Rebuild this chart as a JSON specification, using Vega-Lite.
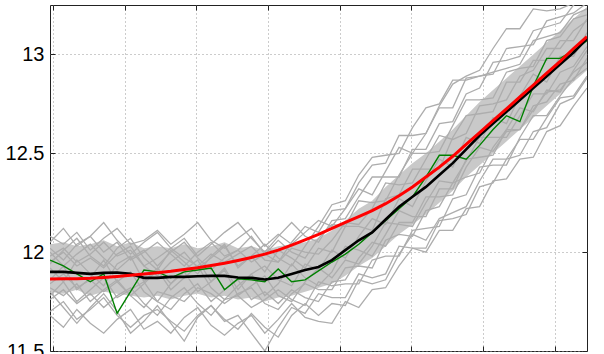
{
"$schema": "https://vega.github.io/schema/vega-lite/v6.json",
"autosize": "none",
"width": 537,
"height": 346,
"padding": {"left": 50, "top": 5, "right": 17, "bottom": 3},
"background": "white",
"config": {"view": {"stroke": "#222", "strokeWidth": 1}},
"datasets": {
"band": [
{"i":0,"lo":11.80,"hi":12.04},{"i":1,"lo":11.79,"hi":12.05},{"i":2,"lo":11.81,"hi":12.03},{"i":3,"lo":11.78,"hi":12.04},{"i":4,"lo":11.80,"hi":12.06},{"i":5,"lo":11.79,"hi":12.03},{"i":6,"lo":11.78,"hi":12.05},{"i":7,"lo":11.77,"hi":12.02},{"i":8,"lo":11.78,"hi":12.03},{"i":9,"lo":11.76,"hi":12.02},{"i":10,"lo":11.78,"hi":12.04},{"i":11,"lo":11.79,"hi":12.02},{"i":12,"lo":11.77,"hi":12.03},{"i":13,"lo":11.78,"hi":12.05},{"i":14,"lo":11.76,"hi":12.02},{"i":15,"lo":11.77,"hi":12.03},{"i":16,"lo":11.75,"hi":12.01},{"i":17,"lo":11.77,"hi":12.03},{"i":18,"lo":11.78,"hi":12.04},{"i":19,"lo":11.80,"hi":12.05},{"i":20,"lo":11.82,"hi":12.07},{"i":21,"lo":11.84,"hi":12.11},{"i":22,"lo":11.88,"hi":12.16},{"i":23,"lo":11.93,"hi":12.22},{"i":24,"lo":11.97,"hi":12.26},{"i":25,"lo":12.03,"hi":12.33},{"i":26,"lo":12.09,"hi":12.39},{"i":27,"lo":12.14,"hi":12.45},{"i":28,"lo":12.19,"hi":12.50},{"i":29,"lo":12.25,"hi":12.56},{"i":30,"lo":12.31,"hi":12.62},{"i":31,"lo":12.38,"hi":12.69},{"i":32,"lo":12.44,"hi":12.76},{"i":33,"lo":12.50,"hi":12.82},{"i":34,"lo":12.56,"hi":12.88},{"i":35,"lo":12.62,"hi":12.94},{"i":36,"lo":12.68,"hi":13.00},{"i":37,"lo":12.74,"hi":13.06},{"i":38,"lo":12.80,"hi":13.12},{"i":39,"lo":12.86,"hi":13.18},{"i":40,"lo":12.92,"hi":13.24}
],
"gray": [
{"g":1,"i":0,"v":11.98},{"g":1,"i":1,"v":12.02},{"g":1,"i":2,"v":11.95},{"g":1,"i":3,"v":11.99},{"g":1,"i":4,"v":12.05},{"g":1,"i":5,"v":11.98},{"g":1,"i":6,"v":12.01},{"g":1,"i":7,"v":11.93},{"g":1,"i":8,"v":11.97},{"g":1,"i":9,"v":12.02},{"g":1,"i":10,"v":11.97},{"g":1,"i":11,"v":11.93},{"g":1,"i":12,"v":11.99},{"g":1,"i":13,"v":11.95},{"g":1,"i":14,"v":11.99},{"g":1,"i":15,"v":12.03},{"g":1,"i":16,"v":11.96},{"g":1,"i":17,"v":11.95},{"g":1,"i":18,"v":12.02},{"g":1,"i":19,"v":12.00},{"g":1,"i":20,"v":11.99},{"g":1,"i":21,"v":12.06},{"g":1,"i":22,"v":12.15},{"g":1,"i":23,"v":12.14},{"g":1,"i":24,"v":12.22},{"g":1,"i":25,"v":12.35},{"g":1,"i":26,"v":12.34},{"g":1,"i":27,"v":12.35},{"g":1,"i":28,"v":12.47},{"g":1,"i":29,"v":12.59},{"g":1,"i":30,"v":12.57},{"g":1,"i":31,"v":12.60},{"g":1,"i":32,"v":12.74},{"g":1,"i":33,"v":12.75},{"g":1,"i":34,"v":12.77},{"g":1,"i":35,"v":12.89},{"g":1,"i":36,"v":12.92},{"g":1,"i":37,"v":13.03},{"g":1,"i":38,"v":13.03},{"g":1,"i":39,"v":13.12},{"g":1,"i":40,"v":13.17},
{"g":2,"i":0,"v":11.82},{"g":2,"i":1,"v":11.78},{"g":2,"i":2,"v":11.84},{"g":2,"i":3,"v":11.75},{"g":2,"i":4,"v":11.81},{"g":2,"i":5,"v":11.86},{"g":2,"i":6,"v":11.78},{"g":2,"i":7,"v":11.72},{"g":2,"i":8,"v":11.80},{"g":2,"i":9,"v":11.78},{"g":2,"i":10,"v":11.75},{"g":2,"i":11,"v":11.82},{"g":2,"i":12,"v":11.79},{"g":2,"i":13,"v":11.74},{"g":2,"i":14,"v":11.79},{"g":2,"i":15,"v":11.82},{"g":2,"i":16,"v":11.74},{"g":2,"i":17,"v":11.71},{"g":2,"i":18,"v":11.79},{"g":2,"i":19,"v":11.84},{"g":2,"i":20,"v":11.81},{"g":2,"i":21,"v":11.81},{"g":2,"i":22,"v":11.92},{"g":2,"i":23,"v":11.93},{"g":2,"i":24,"v":11.92},{"g":2,"i":25,"v":12.06},{"g":2,"i":26,"v":12.09},{"g":2,"i":27,"v":12.08},{"g":2,"i":28,"v":12.21},{"g":2,"i":29,"v":12.23},{"g":2,"i":30,"v":12.35},{"g":2,"i":31,"v":12.38},{"g":2,"i":32,"v":12.40},{"g":2,"i":33,"v":12.53},{"g":2,"i":34,"v":12.62},{"g":2,"i":35,"v":12.62},{"g":2,"i":36,"v":12.72},{"g":2,"i":37,"v":12.81},{"g":2,"i":38,"v":12.82},{"g":2,"i":39,"v":12.91},{"g":2,"i":40,"v":12.96},
{"g":3,"i":0,"v":12.08},{"g":3,"i":1,"v":12.04},{"g":3,"i":2,"v":12.10},{"g":3,"i":3,"v":12.01},{"g":3,"i":4,"v":12.07},{"g":3,"i":5,"v":12.12},{"g":3,"i":6,"v":12.04},{"g":3,"i":7,"v":12.06},{"g":3,"i":8,"v":12.11},{"g":3,"i":9,"v":12.04},{"g":3,"i":10,"v":12.09},{"g":3,"i":11,"v":12.15},{"g":3,"i":12,"v":12.06},{"g":3,"i":13,"v":12.02},{"g":3,"i":14,"v":12.07},{"g":3,"i":15,"v":12.12},{"g":3,"i":16,"v":12.03},{"g":3,"i":17,"v":12.09},{"g":3,"i":18,"v":12.04},{"g":3,"i":19,"v":12.10},{"g":3,"i":20,"v":12.16},{"g":3,"i":21,"v":12.13},{"g":3,"i":22,"v":12.22},{"g":3,"i":23,"v":12.32},{"g":3,"i":24,"v":12.29},{"g":3,"i":25,"v":12.41},{"g":3,"i":26,"v":12.53},{"g":3,"i":27,"v":12.50},{"g":3,"i":28,"v":12.60},{"g":3,"i":29,"v":12.73},{"g":3,"i":30,"v":12.73},{"g":3,"i":31,"v":12.88},{"g":3,"i":32,"v":12.89},{"g":3,"i":33,"v":12.90},{"g":3,"i":34,"v":13.03},{"g":3,"i":35,"v":13.04},{"g":3,"i":36,"v":13.05},{"g":3,"i":37,"v":13.17},{"g":3,"i":38,"v":13.19},{"g":3,"i":39,"v":13.21},{"g":3,"i":40,"v":13.26},
{"g":4,"i":0,"v":11.70},{"g":4,"i":1,"v":11.75},{"g":4,"i":2,"v":11.66},{"g":4,"i":3,"v":11.71},{"g":4,"i":4,"v":11.77},{"g":4,"i":5,"v":11.68},{"g":4,"i":6,"v":11.62},{"g":4,"i":7,"v":11.68},{"g":4,"i":8,"v":11.71},{"g":4,"i":9,"v":11.65},{"g":4,"i":10,"v":11.60},{"g":4,"i":11,"v":11.68},{"g":4,"i":12,"v":11.73},{"g":4,"i":13,"v":11.66},{"g":4,"i":14,"v":11.61},{"g":4,"i":15,"v":11.69},{"g":4,"i":16,"v":11.62},{"g":4,"i":17,"v":11.57},{"g":4,"i":18,"v":11.68},{"g":4,"i":19,"v":11.74},{"g":4,"i":20,"v":11.68},{"g":4,"i":21,"v":11.74},{"g":4,"i":22,"v":11.73},{"g":4,"i":23,"v":11.86},{"g":4,"i":24,"v":11.84},{"g":4,"i":25,"v":11.86},{"g":4,"i":26,"v":11.99},{"g":4,"i":27,"v":12.09},{"g":4,"i":28,"v":12.06},{"g":4,"i":29,"v":12.17},{"g":4,"i":30,"v":12.20},{"g":4,"i":31,"v":12.23},{"g":4,"i":32,"v":12.36},{"g":4,"i":33,"v":12.47},{"g":4,"i":34,"v":12.47},{"g":4,"i":35,"v":12.57},{"g":4,"i":36,"v":12.57},{"g":4,"i":37,"v":12.68},{"g":4,"i":38,"v":12.78},{"g":4,"i":39,"v":12.79},{"g":4,"i":40,"v":12.89},
{"g":5,"i":0,"v":11.92},{"g":5,"i":1,"v":11.85},{"g":5,"i":2,"v":11.96},{"g":5,"i":3,"v":11.89},{"g":5,"i":4,"v":11.83},{"g":5,"i":5,"v":11.94},{"g":5,"i":6,"v":11.98},{"g":5,"i":7,"v":11.85},{"g":5,"i":8,"v":11.92},{"g":5,"i":9,"v":11.84},{"g":5,"i":10,"v":11.91},{"g":5,"i":11,"v":11.96},{"g":5,"i":12,"v":11.85},{"g":5,"i":13,"v":11.92},{"g":5,"i":14,"v":11.81},{"g":5,"i":15,"v":11.89},{"g":5,"i":16,"v":11.93},{"g":5,"i":17,"v":11.86},{"g":5,"i":18,"v":11.83},{"g":5,"i":19,"v":11.94},{"g":5,"i":20,"v":11.91},{"g":5,"i":21,"v":12.01},{"g":5,"i":22,"v":11.97},{"g":5,"i":23,"v":12.08},{"g":5,"i":24,"v":12.17},{"g":5,"i":25,"v":12.14},{"g":5,"i":26,"v":12.27},{"g":5,"i":27,"v":12.23},{"g":5,"i":28,"v":12.36},{"g":5,"i":29,"v":12.47},{"g":5,"i":30,"v":12.43},{"g":5,"i":31,"v":12.58},{"g":5,"i":32,"v":12.55},{"g":5,"i":33,"v":12.68},{"g":5,"i":34,"v":12.65},{"g":5,"i":35,"v":12.79},{"g":5,"i":36,"v":12.90},{"g":5,"i":37,"v":12.86},{"g":5,"i":38,"v":12.99},{"g":5,"i":39,"v":12.99},{"g":5,"i":40,"v":13.11},
{"g":6,"i":0,"v":11.86},{"g":6,"i":1,"v":11.93},{"g":6,"i":2,"v":11.81},{"g":6,"i":3,"v":11.87},{"g":6,"i":4,"v":11.96},{"g":6,"i":5,"v":11.85},{"g":6,"i":6,"v":11.78},{"g":6,"i":7,"v":11.84},{"g":6,"i":8,"v":11.91},{"g":6,"i":9,"v":11.81},{"g":6,"i":10,"v":11.87},{"g":6,"i":11,"v":11.93},{"g":6,"i":12,"v":11.82},{"g":6,"i":13,"v":11.76},{"g":6,"i":14,"v":11.83},{"g":6,"i":15,"v":11.89},{"g":6,"i":16,"v":11.78},{"g":6,"i":17,"v":11.84},{"g":6,"i":18,"v":11.94},{"g":6,"i":19,"v":11.87},{"g":6,"i":20,"v":11.83},{"g":6,"i":21,"v":11.90},{"g":6,"i":22,"v":12.03},{"g":6,"i":23,"v":12.01},{"g":6,"i":24,"v":11.98},{"g":6,"i":25,"v":12.09},{"g":6,"i":26,"v":12.21},{"g":6,"i":27,"v":12.18},{"g":6,"i":28,"v":12.18},{"g":6,"i":29,"v":12.32},{"g":6,"i":30,"v":12.32},{"g":6,"i":31,"v":12.47},{"g":6,"i":32,"v":12.48},{"g":6,"i":33,"v":12.49},{"g":6,"i":34,"v":12.62},{"g":6,"i":35,"v":12.73},{"g":6,"i":36,"v":12.71},{"g":6,"i":37,"v":12.82},{"g":6,"i":38,"v":12.81},{"g":6,"i":39,"v":12.92},{"g":6,"i":40,"v":13.02},
{"g":7,"i":0,"v":12.02},{"g":7,"i":1,"v":11.96},{"g":7,"i":2,"v":12.04},{"g":7,"i":3,"v":12.08},{"g":7,"i":4,"v":12.00},{"g":7,"i":5,"v":12.05},{"g":7,"i":6,"v":11.96},{"g":7,"i":7,"v":12.00},{"g":7,"i":8,"v":12.05},{"g":7,"i":9,"v":11.99},{"g":7,"i":10,"v":11.93},{"g":7,"i":11,"v":12.00},{"g":7,"i":12,"v":12.05},{"g":7,"i":13,"v":11.98},{"g":7,"i":14,"v":12.01},{"g":7,"i":15,"v":11.95},{"g":7,"i":16,"v":11.99},{"g":7,"i":17,"v":12.06},{"g":7,"i":18,"v":12.00},{"g":7,"i":19,"v":11.97},{"g":7,"i":20,"v":12.07},{"g":7,"i":21,"v":12.14},{"g":7,"i":22,"v":12.13},{"g":7,"i":23,"v":12.26},{"g":7,"i":24,"v":12.25},{"g":7,"i":25,"v":12.26},{"g":7,"i":26,"v":12.39},{"g":7,"i":27,"v":12.50},{"g":7,"i":28,"v":12.50},{"g":7,"i":29,"v":12.51},{"g":7,"i":30,"v":12.64},{"g":7,"i":31,"v":12.77},{"g":7,"i":32,"v":12.77},{"g":7,"i":33,"v":12.78},{"g":7,"i":34,"v":12.91},{"g":7,"i":35,"v":12.93},{"g":7,"i":36,"v":12.94},{"g":7,"i":37,"v":13.07},{"g":7,"i":38,"v":13.09},{"g":7,"i":39,"v":13.18},{"g":7,"i":40,"v":13.20},
{"g":8,"i":0,"v":11.76},{"g":8,"i":1,"v":11.81},{"g":8,"i":2,"v":11.74},{"g":8,"i":3,"v":11.79},{"g":8,"i":4,"v":11.72},{"g":8,"i":5,"v":11.78},{"g":8,"i":6,"v":11.82},{"g":8,"i":7,"v":11.74},{"g":8,"i":8,"v":11.68},{"g":8,"i":9,"v":11.77},{"g":8,"i":10,"v":11.82},{"g":8,"i":11,"v":11.74},{"g":8,"i":12,"v":11.68},{"g":8,"i":13,"v":11.76},{"g":8,"i":14,"v":11.78},{"g":8,"i":15,"v":11.72},{"g":8,"i":16,"v":11.76},{"g":8,"i":17,"v":11.81},{"g":8,"i":18,"v":11.76},{"g":8,"i":19,"v":11.73},{"g":8,"i":20,"v":11.85},{"g":8,"i":21,"v":11.83},{"g":8,"i":22,"v":11.84},{"g":8,"i":23,"v":11.84},{"g":8,"i":24,"v":11.96},{"g":8,"i":25,"v":11.98},{"g":8,"i":26,"v":11.98},{"g":8,"i":27,"v":12.11},{"g":8,"i":28,"v":12.12},{"g":8,"i":29,"v":12.13},{"g":8,"i":30,"v":12.27},{"g":8,"i":31,"v":12.29},{"g":8,"i":32,"v":12.43},{"g":8,"i":33,"v":12.44},{"g":8,"i":34,"v":12.44},{"g":8,"i":35,"v":12.58},{"g":8,"i":36,"v":12.69},{"g":8,"i":37,"v":12.69},{"g":8,"i":38,"v":12.79},{"g":8,"i":39,"v":12.88},{"g":8,"i":40,"v":12.93},
{"g":9,"i":0,"v":11.95},{"g":9,"i":1,"v":12.00},{"g":9,"i":2,"v":11.93},{"g":9,"i":3,"v":11.97},{"g":9,"i":4,"v":11.92},{"g":9,"i":5,"v":11.99},{"g":9,"i":6,"v":12.03},{"g":9,"i":7,"v":11.93},{"g":9,"i":8,"v":11.88},{"g":9,"i":9,"v":11.95},{"g":9,"i":10,"v":12.00},{"g":9,"i":11,"v":11.92},{"g":9,"i":12,"v":11.97},{"g":9,"i":13,"v":12.03},{"g":9,"i":14,"v":11.93},{"g":9,"i":15,"v":11.98},{"g":9,"i":16,"v":12.04},{"g":9,"i":17,"v":11.97},{"g":9,"i":18,"v":11.93},{"g":9,"i":19,"v":12.03},{"g":9,"i":20,"v":12.13},{"g":9,"i":21,"v":12.24},{"g":9,"i":22,"v":12.26},{"g":9,"i":23,"v":12.39},{"g":9,"i":24,"v":12.48},{"g":9,"i":25,"v":12.49},{"g":9,"i":26,"v":12.50},{"g":9,"i":27,"v":12.63},{"g":9,"i":28,"v":12.73},{"g":9,"i":29,"v":12.75},{"g":9,"i":30,"v":12.87},{"g":9,"i":31,"v":12.87},{"g":9,"i":32,"v":12.89},{"g":9,"i":33,"v":12.91},{"g":9,"i":34,"v":12.93},{"g":9,"i":35,"v":12.95},{"g":9,"i":36,"v":13.07},{"g":9,"i":37,"v":13.09},{"g":9,"i":38,"v":13.11},{"g":9,"i":39,"v":13.20},{"g":9,"i":40,"v":13.23},
{"g":10,"i":0,"v":11.80},{"g":10,"i":1,"v":11.72},{"g":10,"i":2,"v":11.64},{"g":10,"i":3,"v":11.72},{"g":10,"i":4,"v":11.79},{"g":10,"i":5,"v":11.70},{"g":10,"i":6,"v":11.59},{"g":10,"i":7,"v":11.65},{"g":10,"i":8,"v":11.73},{"g":10,"i":9,"v":11.64},{"g":10,"i":10,"v":11.55},{"g":10,"i":11,"v":11.67},{"g":10,"i":12,"v":11.73},{"g":10,"i":13,"v":11.65},{"g":10,"i":14,"v":11.68},{"g":10,"i":15,"v":11.59},{"g":10,"i":16,"v":11.50},{"g":10,"i":17,"v":11.62},{"g":10,"i":18,"v":11.72},{"g":10,"i":19,"v":11.69},{"g":10,"i":20,"v":11.79},{"g":10,"i":21,"v":11.77},{"g":10,"i":22,"v":11.77},{"g":10,"i":23,"v":11.89},{"g":10,"i":24,"v":11.87},{"g":10,"i":25,"v":11.89},{"g":10,"i":26,"v":12.03},{"g":10,"i":27,"v":12.02},{"g":10,"i":28,"v":12.02},{"g":10,"i":29,"v":12.16},{"g":10,"i":30,"v":12.17},{"g":10,"i":31,"v":12.19},{"g":10,"i":32,"v":12.33},{"g":10,"i":33,"v":12.35},{"g":10,"i":34,"v":12.47},{"g":10,"i":35,"v":12.49},{"g":10,"i":36,"v":12.61},{"g":10,"i":37,"v":12.63},{"g":10,"i":38,"v":12.75},{"g":10,"i":39,"v":12.78},{"g":10,"i":40,"v":12.88},
{"g":11,"i":0,"v":12.05},{"g":11,"i":1,"v":12.12},{"g":11,"i":2,"v":12.03},{"g":11,"i":3,"v":12.08},{"g":11,"i":4,"v":12.15},{"g":11,"i":5,"v":12.06},{"g":11,"i":6,"v":11.99},{"g":11,"i":7,"v":12.05},{"g":11,"i":8,"v":12.10},{"g":11,"i":9,"v":12.02},{"g":11,"i":10,"v":12.07},{"g":11,"i":11,"v":11.98},{"g":11,"i":12,"v":12.04},{"g":11,"i":13,"v":12.10},{"g":11,"i":14,"v":12.15},{"g":11,"i":15,"v":12.07},{"g":11,"i":16,"v":12.00},{"g":11,"i":17,"v":12.08},{"g":11,"i":18,"v":12.15},{"g":11,"i":19,"v":12.08},{"g":11,"i":20,"v":12.05},{"g":11,"i":21,"v":12.16},{"g":11,"i":22,"v":12.17},{"g":11,"i":23,"v":12.28},{"g":11,"i":24,"v":12.38},{"g":11,"i":25,"v":12.38},{"g":11,"i":26,"v":12.38},{"g":11,"i":27,"v":12.52},{"g":11,"i":28,"v":12.52},{"g":11,"i":29,"v":12.65},{"g":11,"i":30,"v":12.66},{"g":11,"i":31,"v":12.80},{"g":11,"i":32,"v":12.83},{"g":11,"i":33,"v":12.96},{"g":11,"i":34,"v":12.97},{"g":11,"i":35,"v":12.99},{"g":11,"i":36,"v":13.12},{"g":11,"i":37,"v":13.14},{"g":11,"i":38,"v":13.16},{"g":11,"i":39,"v":13.25},{"g":11,"i":40,"v":13.28},
{"g":12,"i":0,"v":11.84},{"g":12,"i":1,"v":11.89},{"g":12,"i":2,"v":11.82},{"g":12,"i":3,"v":11.86},{"g":12,"i":4,"v":11.80},{"g":12,"i":5,"v":11.85},{"g":12,"i":6,"v":11.90},{"g":12,"i":7,"v":11.80},{"g":12,"i":8,"v":11.75},{"g":12,"i":9,"v":11.84},{"g":12,"i":10,"v":11.90},{"g":12,"i":11,"v":11.80},{"g":12,"i":12,"v":11.85},{"g":12,"i":13,"v":11.91},{"g":12,"i":14,"v":11.78},{"g":12,"i":15,"v":11.83},{"g":12,"i":16,"v":11.88},{"g":12,"i":17,"v":11.78},{"g":12,"i":18,"v":11.75},{"g":12,"i":19,"v":11.85},{"g":12,"i":20,"v":11.92},{"g":12,"i":21,"v":11.87},{"g":12,"i":22,"v":11.96},{"g":12,"i":23,"v":11.94},{"g":12,"i":24,"v":12.03},{"g":12,"i":25,"v":12.15},{"g":12,"i":26,"v":12.14},{"g":12,"i":27,"v":12.13},{"g":12,"i":28,"v":12.25},{"g":12,"i":29,"v":12.36},{"g":12,"i":30,"v":12.35},{"g":12,"i":31,"v":12.46},{"g":12,"i":32,"v":12.58},{"g":12,"i":33,"v":12.58},{"g":12,"i":34,"v":12.58},{"g":12,"i":35,"v":12.69},{"g":12,"i":36,"v":12.80},{"g":12,"i":37,"v":12.80},{"g":12,"i":38,"v":12.91},{"g":12,"i":39,"v":12.94},{"g":12,"i":40,"v":13.04},
{"g":13,"i":0,"v":11.68},{"g":13,"i":1,"v":11.62},{"g":13,"i":2,"v":11.71},{"g":13,"i":3,"v":11.64},{"g":13,"i":4,"v":11.59},{"g":13,"i":5,"v":11.66},{"g":13,"i":6,"v":11.71},{"g":13,"i":7,"v":11.61},{"g":13,"i":8,"v":11.65},{"g":13,"i":9,"v":11.59},{"g":13,"i":10,"v":11.67},{"g":13,"i":11,"v":11.72},{"g":13,"i":12,"v":11.63},{"g":13,"i":13,"v":11.58},{"g":13,"i":14,"v":11.64},{"g":13,"i":15,"v":11.68},{"g":13,"i":16,"v":11.59},{"g":13,"i":17,"v":11.66},{"g":13,"i":18,"v":11.74},{"g":13,"i":19,"v":11.67},{"g":13,"i":20,"v":11.65},{"g":13,"i":21,"v":11.64},{"g":13,"i":22,"v":11.75},{"g":13,"i":23,"v":11.72},{"g":13,"i":24,"v":11.81},{"g":13,"i":25,"v":11.82},{"g":13,"i":26,"v":11.93},{"g":13,"i":27,"v":12.02},{"g":13,"i":28,"v":12.00},{"g":13,"i":29,"v":12.11},{"g":13,"i":30,"v":12.11},{"g":13,"i":31,"v":12.22},{"g":13,"i":32,"v":12.23},{"g":13,"i":33,"v":12.36},{"g":13,"i":34,"v":12.37},{"g":13,"i":35,"v":12.47},{"g":13,"i":36,"v":12.48},{"g":13,"i":37,"v":12.61},{"g":13,"i":38,"v":12.64},{"g":13,"i":39,"v":12.74},{"g":13,"i":40,"v":12.83},
{"g":14,"i":0,"v":11.94},{"g":14,"i":1,"v":12.01},{"g":14,"i":2,"v":12.07},{"g":14,"i":3,"v":11.98},{"g":14,"i":4,"v":11.93},{"g":14,"i":5,"v":12.02},{"g":14,"i":6,"v":12.07},{"g":14,"i":7,"v":11.97},{"g":14,"i":8,"v":11.91},{"g":14,"i":9,"v":12.01},{"g":14,"i":10,"v":11.95},{"g":14,"i":11,"v":11.89},{"g":14,"i":12,"v":11.98},{"g":14,"i":13,"v":12.04},{"g":14,"i":14,"v":11.92},{"g":14,"i":15,"v":11.98},{"g":14,"i":16,"v":11.90},{"g":14,"i":17,"v":12.01},{"g":14,"i":18,"v":11.97},{"g":14,"i":19,"v":11.92},{"g":14,"i":20,"v":12.02},{"g":14,"i":21,"v":12.00},{"g":14,"i":22,"v":12.13},{"g":14,"i":23,"v":12.13},{"g":14,"i":24,"v":12.11},{"g":14,"i":25,"v":12.27},{"g":14,"i":26,"v":12.29},{"g":14,"i":27,"v":12.42},{"g":14,"i":28,"v":12.42},{"g":14,"i":29,"v":12.42},{"g":14,"i":30,"v":12.58},{"g":14,"i":31,"v":12.69},{"g":14,"i":32,"v":12.70},{"g":14,"i":33,"v":12.71},{"g":14,"i":34,"v":12.86},{"g":14,"i":35,"v":12.86},{"g":14,"i":36,"v":12.97},{"g":14,"i":37,"v":12.97},{"g":14,"i":38,"v":13.07},{"g":14,"i":39,"v":13.07},{"g":14,"i":40,"v":13.18},
{"g":15,"i":0,"v":11.78},{"g":15,"i":1,"v":11.85},{"g":15,"i":2,"v":11.75},{"g":15,"i":3,"v":11.81},{"g":15,"i":4,"v":11.87},{"g":15,"i":5,"v":11.77},{"g":15,"i":6,"v":11.81},{"g":15,"i":7,"v":11.85},{"g":15,"i":8,"v":11.75},{"g":15,"i":9,"v":11.71},{"g":15,"i":10,"v":11.79},{"g":15,"i":11,"v":11.84},{"g":15,"i":12,"v":11.75},{"g":15,"i":13,"v":11.81},{"g":15,"i":14,"v":11.86},{"g":15,"i":15,"v":11.76},{"g":15,"i":16,"v":11.80},{"g":15,"i":17,"v":11.74},{"g":15,"i":18,"v":11.81},{"g":15,"i":19,"v":11.77},{"g":15,"i":20,"v":11.75},{"g":15,"i":21,"v":11.85},{"g":15,"i":22,"v":11.86},{"g":15,"i":23,"v":11.97},{"g":15,"i":24,"v":12.05},{"g":15,"i":25,"v":12.03},{"g":15,"i":26,"v":12.15},{"g":15,"i":27,"v":12.15},{"g":15,"i":28,"v":12.28},{"g":15,"i":29,"v":12.28},{"g":15,"i":30,"v":12.29},{"g":15,"i":31,"v":12.43},{"g":15,"i":32,"v":12.53},{"g":15,"i":33,"v":12.51},{"g":15,"i":34,"v":12.61},{"g":15,"i":35,"v":12.62},{"g":15,"i":36,"v":12.74},{"g":15,"i":37,"v":12.76},{"g":15,"i":38,"v":12.85},{"g":15,"i":39,"v":12.87},{"g":15,"i":40,"v":12.98},
{"g":16,"i":0,"v":12.00},{"g":16,"i":1,"v":11.93},{"g":16,"i":2,"v":11.99},{"g":16,"i":3,"v":12.04},{"g":16,"i":4,"v":11.97},{"g":16,"i":5,"v":11.91},{"g":16,"i":6,"v":11.97},{"g":16,"i":7,"v":12.01},{"g":16,"i":8,"v":11.93},{"g":16,"i":9,"v":12.00},{"g":16,"i":10,"v":12.05},{"g":16,"i":11,"v":11.97},{"g":16,"i":12,"v":11.91},{"g":16,"i":13,"v":11.97},{"g":16,"i":14,"v":12.01},{"g":16,"i":15,"v":12.08},{"g":16,"i":16,"v":11.99},{"g":16,"i":17,"v":11.95},{"g":16,"i":18,"v":12.05},{"g":16,"i":19,"v":12.13},{"g":16,"i":20,"v":12.10},{"g":16,"i":21,"v":12.21},{"g":16,"i":22,"v":12.22},{"g":16,"i":23,"v":12.35},{"g":16,"i":24,"v":12.44},{"g":16,"i":25,"v":12.45},{"g":16,"i":26,"v":12.59},{"g":16,"i":27,"v":12.59},{"g":16,"i":28,"v":12.60},{"g":16,"i":29,"v":12.74},{"g":16,"i":30,"v":12.85},{"g":16,"i":31,"v":12.89},{"g":16,"i":32,"v":12.92},{"g":16,"i":33,"v":13.03},{"g":16,"i":34,"v":13.13},{"g":16,"i":35,"v":13.13},{"g":16,"i":36,"v":13.23},{"g":16,"i":37,"v":13.22},{"g":16,"i":38,"v":13.23},{"g":16,"i":39,"v":13.26},{"g":16,"i":40,"v":13.30}
],
"main": [
{"s":"green","i":0,"v":11.96},{"s":"green","i":1,"v":11.93},{"s":"green","i":2,"v":11.89},{"s":"green","i":3,"v":11.85},{"s":"green","i":4,"v":11.89},{"s":"green","i":5,"v":11.69},{"s":"green","i":6,"v":11.80},{"s":"green","i":7,"v":11.91},{"s":"green","i":8,"v":11.90},{"s":"green","i":9,"v":11.87},{"s":"green","i":10,"v":11.90},{"s":"green","i":11,"v":11.91},{"s":"green","i":12,"v":11.92},{"s":"green","i":13,"v":11.81},{"s":"green","i":14,"v":11.865},{"s":"green","i":15,"v":11.86},{"s":"green","i":16,"v":11.85},{"s":"green","i":17,"v":11.915},{"s":"green","i":18,"v":11.85},{"s":"green","i":19,"v":11.86},{"s":"green","i":20,"v":11.905},{"s":"green","i":21,"v":11.95},{"s":"green","i":22,"v":11.99},{"s":"green","i":23,"v":12.04},{"s":"green","i":24,"v":12.10},{"s":"green","i":25,"v":12.16},{"s":"green","i":26,"v":12.22},{"s":"green","i":27,"v":12.28},{"s":"green","i":28,"v":12.38},{"s":"green","i":29,"v":12.49},{"s":"green","i":30,"v":12.49},{"s":"green","i":31,"v":12.47},{"s":"green","i":32,"v":12.54},{"s":"green","i":33,"v":12.62},{"s":"green","i":34,"v":12.69},{"s":"green","i":35,"v":12.66},{"s":"green","i":36,"v":12.84},{"s":"green","i":37,"v":12.98},{"s":"green","i":38,"v":12.98},{"s":"green","i":39,"v":13.02},{"s":"green","i":40,"v":13.07},
{"s":"black","i":0,"v":11.90},{"s":"black","i":1,"v":11.90},{"s":"black","i":2,"v":11.895},{"s":"black","i":3,"v":11.89},{"s":"black","i":4,"v":11.895},{"s":"black","i":5,"v":11.897},{"s":"black","i":6,"v":11.89},{"s":"black","i":7,"v":11.87},{"s":"black","i":8,"v":11.87},{"s":"black","i":9,"v":11.875},{"s":"black","i":10,"v":11.875},{"s":"black","i":11,"v":11.878},{"s":"black","i":12,"v":11.88},{"s":"black","i":13,"v":11.88},{"s":"black","i":14,"v":11.872},{"s":"black","i":15,"v":11.87},{"s":"black","i":16,"v":11.862},{"s":"black","i":17,"v":11.87},{"s":"black","i":18,"v":11.89},{"s":"black","i":19,"v":11.91},{"s":"black","i":20,"v":11.925},{"s":"black","i":21,"v":11.96},{"s":"black","i":22,"v":12.01},{"s":"black","i":23,"v":12.06},{"s":"black","i":24,"v":12.10},{"s":"black","i":25,"v":12.165},{"s":"black","i":26,"v":12.23},{"s":"black","i":27,"v":12.28},{"s":"black","i":28,"v":12.33},{"s":"black","i":29,"v":12.39},{"s":"black","i":30,"v":12.45},{"s":"black","i":31,"v":12.52},{"s":"black","i":32,"v":12.59},{"s":"black","i":33,"v":12.65},{"s":"black","i":34,"v":12.71},{"s":"black","i":35,"v":12.77},{"s":"black","i":36,"v":12.83},{"s":"black","i":37,"v":12.89},{"s":"black","i":38,"v":12.95},{"s":"black","i":39,"v":13.01},{"s":"black","i":40,"v":13.08},
{"s":"red","i":0,"v":11.864},{"s":"red","i":1,"v":11.865},{"s":"red","i":2,"v":11.866},{"s":"red","i":3,"v":11.868},{"s":"red","i":4,"v":11.872},{"s":"red","i":5,"v":11.877},{"s":"red","i":6,"v":11.883},{"s":"red","i":7,"v":11.889},{"s":"red","i":8,"v":11.896},{"s":"red","i":9,"v":11.903},{"s":"red","i":10,"v":11.912},{"s":"red","i":11,"v":11.921},{"s":"red","i":12,"v":11.932},{"s":"red","i":13,"v":11.944},{"s":"red","i":14,"v":11.958},{"s":"red","i":15,"v":11.973},{"s":"red","i":16,"v":11.99},{"s":"red","i":17,"v":12.01},{"s":"red","i":18,"v":12.035},{"s":"red","i":19,"v":12.062},{"s":"red","i":20,"v":12.09},{"s":"red","i":21,"v":12.12},{"s":"red","i":22,"v":12.15},{"s":"red","i":23,"v":12.18},{"s":"red","i":24,"v":12.21},{"s":"red","i":25,"v":12.245},{"s":"red","i":26,"v":12.285},{"s":"red","i":27,"v":12.33},{"s":"red","i":28,"v":12.38},{"s":"red","i":29,"v":12.43},{"s":"red","i":30,"v":12.485},{"s":"red","i":31,"v":12.545},{"s":"red","i":32,"v":12.605},{"s":"red","i":33,"v":12.665},{"s":"red","i":34,"v":12.725},{"s":"red","i":35,"v":12.785},{"s":"red","i":36,"v":12.845},{"s":"red","i":37,"v":12.905},{"s":"red","i":38,"v":12.965},{"s":"red","i":39,"v":13.03},{"s":"red","i":40,"v":13.09}
]
},
"resolve": {"axis": {"x": "independent", "y": "independent"}},
"layer": [
{
"data": {"name": "band"},
"mark": {"type": "area", "color": "#c9c9c9", "clip": true},
"encoding": {
"x": {"field": "i", "type": "quantitative", "scale": {"domain": [0, 40], "nice": false, "zero": false},
"axis": {"orient": "bottom", "title": null, "labels": false, "values": [0.22, 5.56, 10.9, 16.24, 21.58, 26.92, 32.26, 37.6], "grid": true, "gridColor": "#999", "gridDash": [1, 3], "gridWidth": 1, "tickSize": -5, "tickColor": "#222", "domain": false}},
"y": {"field": "lo", "type": "quantitative", "scale": {"domain": [11.5, 13.25], "nice": false, "zero": false},
"axis": {"orient": "left", "title": null, "values": [11.5, 12, 12.5, 13], "format": "~g", "grid": true, "gridColor": "#999", "gridDash": [1, 3], "gridWidth": 1, "tickSize": -5, "tickColor": "#222", "domain": false, "labelFont": "Liberation Sans", "labelFontSize": 20, "labelColor": "#000", "labelPadding": 11}},
"y2": {"field": "hi"}
}
},
{
"data": {"name": "gray"},
"mark": {"type": "line", "color": "#adadad", "strokeWidth": 1.3, "clip": true},
"encoding": {
"x": {"field": "i", "type": "quantitative", "axis": {"orient": "top", "title": null, "labels": false, "values": [0.22, 5.56, 10.9, 16.24, 21.58, 26.92, 32.26, 37.6], "grid": false, "tickSize": -5, "tickColor": "#222", "domain": false}},
"y": {"field": "v", "type": "quantitative", "axis": {"orient": "right", "title": null, "labels": false, "values": [11.5, 12, 12.5, 13], "grid": false, "tickSize": -5, "tickColor": "#222", "domain": false}},
"detail": {"field": "g"}
}
},
{
"data": {"name": "main"},
"transform": [{"filter": "datum.s === 'green'"}],
"mark": {"type": "line", "color": "#008000", "strokeWidth": 1.4, "clip": true},
"encoding": {
"x": {"field": "i", "type": "quantitative", "axis": null},
"y": {"field": "v", "type": "quantitative", "axis": null}
}
},
{
"data": {"name": "main"},
"transform": [{"filter": "datum.s === 'black'"}],
"mark": {"type": "line", "color": "#000000", "strokeWidth": 2.6, "clip": true},
"encoding": {
"x": {"field": "i", "type": "quantitative", "axis": null},
"y": {"field": "v", "type": "quantitative", "axis": null}
}
},
{
"data": {"name": "main"},
"transform": [{"filter": "datum.s === 'red'"}],
"mark": {"type": "line", "color": "#ff0000", "strokeWidth": 3, "clip": true},
"encoding": {
"x": {"field": "i", "type": "quantitative", "axis": null},
"y": {"field": "v", "type": "quantitative", "axis": null}
}
}
]
}
